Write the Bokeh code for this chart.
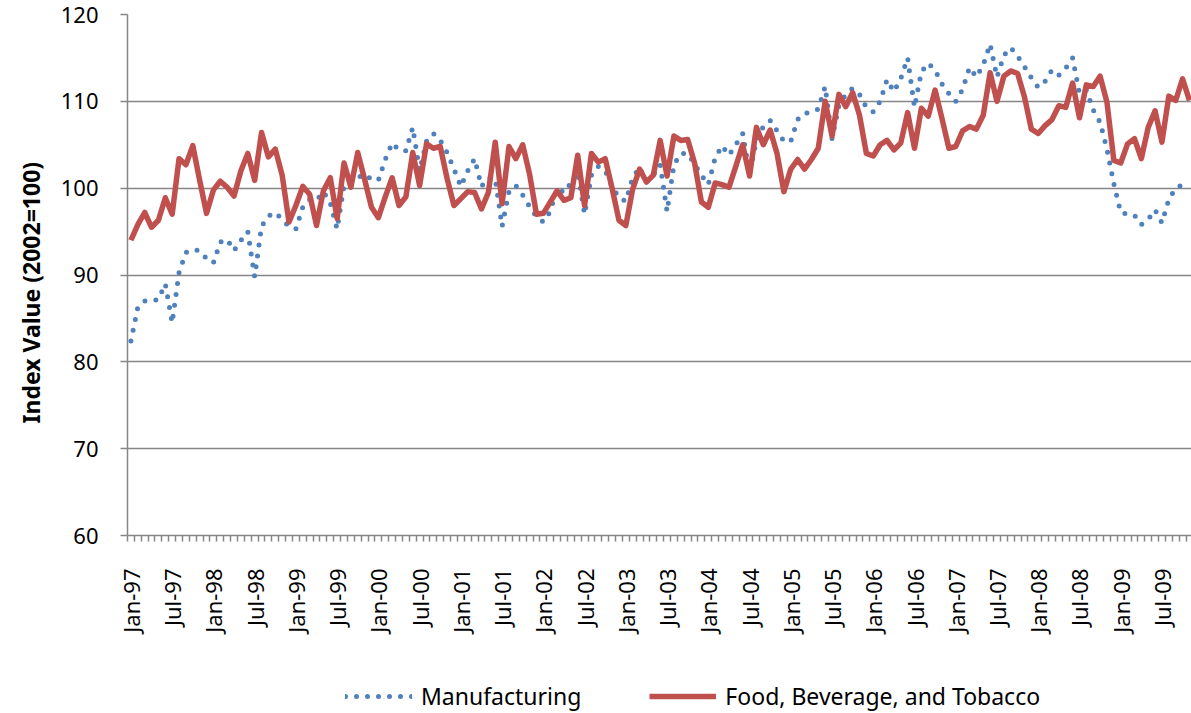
import math
from bokeh.plotting import figure
from bokeh.layouts import column
from bokeh.models import (ColumnDataSource, LinearAxis, FixedTicker, Range1d,
                          Legend, LegendItem, Title)
from bokeh.embed import file_html
from bokeh.resources import INLINE

# Monthly index values, Jan-97 .. Nov-09 (2002=100)
manufacturing = [
    82.4, 86.3, 87.0, 87.0, 87.2, 89.0, 84.5, 90.3, 92.6, 92.9,
    92.8, 91.9, 91.4, 93.8, 94.1, 92.8, 94.0, 95.0, 89.8, 95.6,
    96.8, 97.2, 96.4, 95.6, 95.3, 97.8, 98.7, 98.6, 99.6, 98.3,
    95.3, 100.3, 101.0, 101.2, 101.6, 101.0, 100.9, 103.3, 105.2, 104.4,
    104.3, 107.0, 102.0, 105.4, 106.3, 105.5, 104.1, 102.2, 100.2, 102.0,
    103.4, 100.2, 101.2, 101.1, 95.6, 99.6, 100.3, 99.2, 97.9, 96.7,
    96.1, 97.3, 100.0, 99.5, 100.6, 101.9, 97.0, 101.5, 102.5, 102.0,
    100.2, 98.9, 98.5, 101.2, 102.4, 100.8, 101.5, 102.7, 97.3, 102.7,
    104.0, 104.0, 102.8, 101.5, 100.4, 103.5, 104.9, 103.8, 105.0, 106.3,
    101.7, 105.5, 107.1, 107.8, 106.6, 105.4, 105.4, 107.9, 108.6, 108.8,
    109.1, 111.7, 105.7, 109.5, 110.8, 111.5, 110.8, 109.3, 108.8, 110.0,
    112.5, 111.1, 112.6, 115.0, 109.3, 113.4, 114.4, 113.6, 112.0, 110.9,
    110.0, 111.4, 113.9, 112.8, 114.2, 116.6, 112.8, 115.3, 116.2, 115.2,
    114.0, 112.7, 111.6, 112.3, 113.6, 113.0, 113.8, 115.0, 110.9, 111.3,
    109.0, 107.6, 104.5, 100.5, 97.2, 97.0, 96.9, 95.8, 96.4, 97.5,
    96.0, 98.7, 100.0, 100.4, 100.6,
]

food_beverage_tobacco = [
    94.0, 95.8, 97.2, 95.5, 96.3, 98.9, 97.0, 103.4, 102.7, 104.9,
    100.9, 97.1, 99.8, 100.8, 100.1, 99.1, 102.0, 104.0, 100.9, 106.4,
    103.6, 104.5, 101.5, 96.1, 98.0, 100.2, 99.3, 95.7, 99.7, 101.2,
    96.5, 102.9, 100.1, 104.1, 101.0, 97.8, 96.6, 99.0, 101.2, 98.0,
    99.0, 104.1, 100.3, 105.1, 104.6, 104.8, 101.1, 98.0, 98.8, 99.6,
    99.5, 97.6, 99.5, 105.3, 98.2, 104.8, 103.4, 105.0, 101.6, 97.0,
    97.1, 98.4, 99.7, 98.6, 98.9, 103.8, 98.0, 104.0, 103.0, 103.4,
    100.0, 96.3, 95.7, 99.9, 102.2, 100.7, 101.5, 105.5, 101.4, 106.0,
    105.5, 105.6, 102.9, 98.4, 97.8, 100.6, 100.4, 100.1, 102.5, 105.0,
    101.4, 107.0, 105.0, 106.7, 104.0, 99.6, 102.2, 103.3, 102.2, 103.3,
    104.6, 110.0, 106.0, 110.8, 109.4, 111.0, 108.4, 104.0, 103.7, 105.0,
    105.5, 104.4, 105.2, 108.7, 104.6, 109.2, 108.3, 111.3, 108.0, 104.6,
    104.8, 106.6, 107.1, 106.8, 108.4, 113.3, 110.0, 112.9, 113.5, 113.2,
    110.5, 106.8, 106.3, 107.2, 107.9, 109.5, 109.3, 112.1, 108.1, 111.9,
    111.7, 112.9, 109.9, 103.2, 102.9, 105.1, 105.7, 103.4, 107.0, 108.9,
    105.3, 110.6, 110.1, 112.6, 110.1,
]

tick_labels = [
    "Jan-97", "Jul-97", "Jan-98", "Jul-98", "Jan-99", "Jul-99", "Jan-00",
    "Jul-00", "Jan-01", "Jul-01", "Jan-02", "Jul-02", "Jan-03", "Jul-03",
    "Jan-04", "Jul-04", "Jan-05", "Jul-05", "Jan-06", "Jul-06", "Jan-07",
    "Jul-07", "Jan-08", "Jul-08", "Jan-09", "Jul-09",
]

y_ticks = [60, 70, 80, 90, 100, 110, 120]

FONT = "Noto Sans"
GRAY = "#868686"
BLUE = "#4F81BD"
RED = "#C0504D"

n = len(food_beverage_tobacco)
x = [i + 0.5 for i in range(n)]
src = ColumnDataSource(data=dict(x=x, m=manufacturing, f=food_beverage_tobacco))

W = 1191
MAIN_H = 673
LEG_H = 40

p = figure(width=W, height=MAIN_H, output_backend="svg", toolbar_location=None,
           x_range=Range1d(0, 154.8), y_range=Range1d(60, 120),
           x_axis_type=None,
           min_border_left=127, min_border_right=0, min_border_top=14,
           min_border_bottom=MAIN_H - 535)
p.outline_line_color = None

# y axis
yax = p.yaxis[0]
yax.ticker = FixedTicker(ticks=y_ticks)
yax.minor_tick_line_color = None
yax.major_tick_in = 0
yax.major_tick_out = 7
yax.major_tick_line_color = GRAY
yax.major_tick_line_width = 1.5
yax.axis_line_color = GRAY
yax.axis_line_width = 1.5
yax.major_label_text_font = FONT
yax.major_label_text_font_size = "22px"
yax.major_label_text_color = "black"
yax.major_label_standoff = 22

p.add_layout(Title(text="Index Value (2002=100)", align="left", offset=112,
                   text_font=FONT, text_font_style="bold",
                   text_font_size="23px", text_color="black", standoff=21),
             "left")

p.ygrid.ticker = FixedTicker(ticks=y_ticks)
p.ygrid.grid_line_color = GRAY
p.ygrid.grid_line_width = 1.5

# x axis: labels centred on their months, tick marks at month boundaries
month_bounds = list(range(0, n + 1))
label_pos = [i + 0.5 for i in range(0, n, 6)][:len(tick_labels)]
xax = LinearAxis(
    ticker=FixedTicker(ticks=label_pos, minor_ticks=month_bounds),
    major_label_overrides={pos: lab for pos, lab in zip(label_pos, tick_labels)},
    axis_line_color=GRAY, axis_line_width=1.5,
    major_tick_line_color=None, major_tick_in=0, major_tick_out=0,
    minor_tick_in=0, minor_tick_out=6, minor_tick_line_color=GRAY,
    minor_tick_line_width=1.5,
    major_label_orientation=math.pi / 2,
    major_label_text_font=FONT, major_label_text_font_size="22px",
    major_label_text_color="black", major_label_standoff=27,
)
p.add_layout(xax, "below")

line_m = dict(line_color=BLUE, line_width=5, line_dash="0 11", line_cap="round")
line_f = dict(line_color=RED, line_width=5.5, line_join="round")

p.line(x="x", y="m", source=src, **line_m)
p.line(x="x", y="f", source=src, **line_f)

# legend strip below the chart (frames of the column are aligned)
lg = figure(width=W, height=LEG_H, output_backend="svg", toolbar_location=None,
            x_axis_type=None, y_axis_type=None, min_border=0,
            x_range=Range1d(0, 1), y_range=Range1d(0, 1))
lg.outline_line_color = None
lg.grid.visible = False
lr_m = lg.line(x="x", y="m", source=src, visible=False, **line_m)
lr_f = lg.line(x="x", y="f", source=src, visible=False, **line_f)

legend = Legend(
    items=[LegendItem(label="Manufacturing", renderers=[lr_m]),
           LegendItem(label="Food, Beverage, and Tobacco", renderers=[lr_f])],
    location=(218, 1), orientation="horizontal",
    glyph_width=67, glyph_height=20, label_height=20, label_standoff=9,
    spacing=68, padding=0, margin=0, border_line_color=None,
    background_fill_alpha=0, inactive_fill_alpha=0,
    label_text_font=FONT, label_text_font_size="23px", label_text_color="black",
)
lg.add_layout(legend, "center")

layout = column(p, lg, spacing=0)
open("out.html", "w").write(file_html(layout, INLINE))
